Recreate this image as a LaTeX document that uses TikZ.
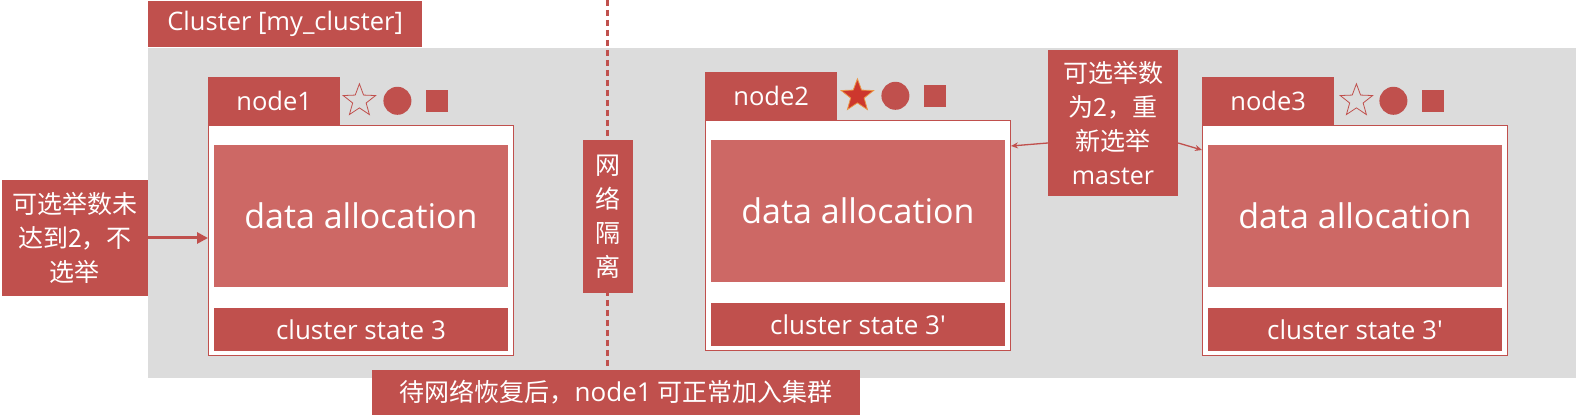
\documentclass[tikz,border=0pt]{standalone}
\usepackage{fontspec}
\newfontfamily\cjk{Noto Sans CJK SC}
\newfontfamily\lat{Open Sans}
\usetikzlibrary{arrows.meta,positioning,shapes.geometric}
\definecolor{esred}{RGB}{192,80,77}
\definecolor{espale}{RGB}{205,104,101}
\definecolor{esgray}{RGB}{220,220,220}
\definecolor{esstar}{RGB}{205,55,45}
\definecolor{esglow}{RGB}{235,150,70}
\tikzset{
  lab/.style   ={fill=esred,text=white,inner sep=0pt,align=center,font=\cjk\fontsize{25}{34}\selectfont},
  tab/.style   ={lab,minimum width=132pt,minimum height=48pt,font=\lat\fontsize{25.5}{28}\selectfont},
  shell/.style ={draw=esred,fill=white,line width=1pt,minimum width=305pt,minimum height=230pt,inner sep=0pt},
  alloc/.style ={fill=espale,text=white,minimum width=294pt,minimum height=142pt,inner sep=0pt,font=\lat\fontsize{34}{38}\selectfont},
  state/.style ={lab,minimum width=294pt,minimum height=43pt,font=\lat\fontsize{26}{28}\selectfont},
  vote/.style  ={star,star points=5,star point ratio=2.4,minimum size=34pt,inner sep=0pt,draw=esred,line width=0.8pt},
  dot/.style   ={circle,fill=esred,minimum size=28pt,inner sep=0pt},
  sq/.style    ={fill=esred,minimum size=22pt,inner sep=0pt},
  flow/.style  ={-{Triangle[length=11pt,width=11pt]},line width=3pt,draw=esred},
  hint/.style  ={-{Stealth[length=7pt,width=6pt]},line width=1.3pt,draw=esred},
  wall/.style  ={draw=esred,line width=3pt,dash pattern=on 6pt off 4pt},
}

\begin{document}
\begin{tikzpicture}[x=1pt,y=1pt]
  \useasboundingbox (0,0) rectangle (1576,417);
  \fill[esgray] (148,39) rectangle (1576,369);
  \node[lab,minimum width=274pt,minimum height=46pt,anchor=north west,font=\lat\fontsize{25.5}{28}\selectfont] (clu) at (148,416) {Cluster [my\_cluster]};

  % partition line and its labels
  \node[lab,minimum width=488pt,minimum height=45pt] (msg) at (616,24.5) {待网络恢复后，{\lat\fontsize{26}{30}\selectfont node1} 可正常加入集群};
  \coordinate (cut) at (607,417);
  \draw[wall] (cut) -- (cut |- msg.north);
  \node[lab,minimum width=50pt,minimum height=153pt] (iso) at (608,200) {网\\络\\隔\\离};

  % node1
  \node[shell,anchor=north west] (b1) at (208,292) {};
  \node[tab,above right=0pt of b1.north west] (t1) {node1};
  \node[alloc,below=20pt of b1.north] (d1) {data allocation};
  \node[state,above=5pt of b1.south] (s1) {cluster state 3};
  \node[vote] (v1) at ([xshift=19pt]t1.east) {};
  \node[dot] (c1) at ([xshift=57pt]t1.east) {};
  \node[sq] (q1) at ([xshift=97pt]t1.east) {};

  % node2
  \node[shell,anchor=north west] (b2) at (705,297) {};
  \node[tab,above right=0pt of b2.north west] (t2) {node2};
  \node[alloc,below=20pt of b2.north] (d2) {data allocation};
  \node[state,above=5pt of b2.south] (s2) {cluster state 3'};
  \node[vote,fill=esstar,draw=esglow] (v2) at ([xshift=20pt]t2.east) {};
  \node[dot] (c2) at ([xshift=58pt]t2.east) {};
  \node[sq] (q2) at ([xshift=98pt]t2.east) {};

  % node3
  \node[shell,anchor=north west] (b3) at (1202,292) {};
  \node[tab,above right=0pt of b3.north west] (t3) {node3};
  \node[alloc,below=20pt of b3.north] (d3) {data allocation};
  \node[state,above=5pt of b3.south] (s3) {cluster state 3'};
  \node[vote] (v3) at ([xshift=22pt]t3.east) {};
  \node[dot] (c3) at ([xshift=59pt]t3.east) {};
  \node[sq] (q3) at ([xshift=99pt]t3.east) {};

  % election notes
  \node[lab,minimum width=146pt,minimum height=116pt] (why) at (75,179) {可选举数未\\达到2，不\\选举};
  \draw[flow] (why.east) -- (why.east -| b1.west);
  \node[lab,minimum width=130pt,minimum height=146pt] (re) at (1113,294) {可选举数\\为2，重\\新选举\\{\lat master}};
  \draw[hint] ([yshift=-20pt]re.west) -- ([yshift=-26pt]b2.north east);
  \draw[hint] ([yshift=-20pt]re.east) -- ([yshift=-25pt]b3.north west);
\end{tikzpicture}
\end{document}
